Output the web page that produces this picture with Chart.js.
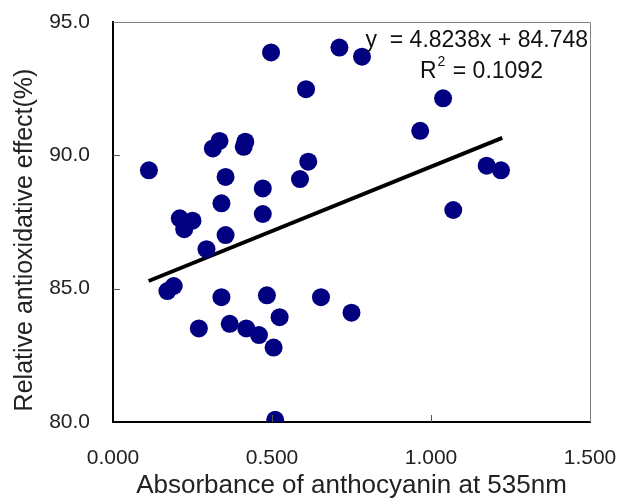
<!DOCTYPE html>
<html>
<head>
<meta charset="utf-8">
<script src="https://cdn.jsdelivr.net/npm/chart.js@4.4.1/dist/chart.umd.min.js"></script>
<style>
  body { margin: 0; background: #fff; }
  #grafico { display: block; }
</style>
</head>
<body>
<canvas id="grafico" width="617" height="499"></canvas>
<script>
// Datos
const absorbancia = [0.497, 0.712, 0.783, 0.607, 0.335, 0.314, 0.416, 0.411, 0.113, 0.614,
  0.588, 0.354, 0.471, 0.341, 0.471, 0.210, 0.250, 0.224, 0.354, 0.294,
  0.171, 0.191, 0.341, 0.484, 0.654, 0.750, 0.524, 0.270, 0.367, 0.419,
  0.459, 0.505, 0.510, 1.038, 0.966, 1.175, 1.220, 1.070];
const efecto = [93.86, 94.04, 93.70, 92.48, 90.54, 90.26, 90.51, 90.32, 89.44, 89.76,
  89.11, 89.19, 88.76, 88.20, 87.80, 87.64, 87.55, 87.23, 87.01, 86.48,
  84.91, 85.10, 84.68, 84.75, 84.68, 84.10, 83.93, 83.51, 83.68, 83.51,
  83.26, 82.79, 80.08, 92.14, 90.92, 89.61, 89.44, 87.95];

// Recta de regresion
const pendiente = 4.8238;
const ordenada = 84.748;
const r2 = "0.1092";
const tendenciaX = [0.112, 1.224];

const ticksX = [0, 0.5, 1.0, 1.5];
const ticksY = [80, 85, 90, 95];

const tituloX = "Absorbance of anthocyanin at 535nm";
const tituloY = "Relative antioxidative effect(%)";

const puntos = absorbancia.map((x, i) => ({ x: x, y: efecto[i] }));
const linea = tendenciaX.map(x => ({ x: x, y: pendiente * x + ordenada }));

// sin relleno extra por las etiquetas
function sinRelleno(s) {
  s.paddingLeft = 0; s.paddingRight = 0; s.paddingTop = 0; s.paddingBottom = 0;
}

// Marco, marcas hacia dentro, ecuacion y titulos
const extras = {
  id: "extras",
  afterDraw(chart) {
    const ctx = chart.ctx;
    const a = chart.chartArea;
    const sx = chart.scales.x, sy = chart.scales.y;
    ctx.save();
    // borde superior y derecho
    ctx.strokeStyle = "#808080";
    ctx.lineWidth = 1;
    ctx.beginPath();
    ctx.moveTo(a.left, a.top + 0.5);
    ctx.lineTo(a.right + 0.5, a.top + 0.5);
    ctx.lineTo(a.right + 0.5, a.bottom);
    ctx.stroke();
    // marcas
    ctx.strokeStyle = "#555";
    ctx.lineWidth = 1;
    ticksY.slice(1, -1).forEach(v => {
      const py = Math.round(sy.getPixelForValue(v)) + 0.5;
      ctx.beginPath(); ctx.moveTo(a.left, py); ctx.lineTo(a.left + 7, py); ctx.stroke();
    });
    ticksX.slice(1, -1).forEach(v => {
      const px = Math.round(sx.getPixelForValue(v)) + 0.5;
      ctx.beginPath(); ctx.moveTo(px, a.bottom); ctx.lineTo(px, a.bottom - 7); ctx.stroke();
    });
    // ecuacion
    ctx.fillStyle = "#111";
    ctx.font = "23px 'Liberation Sans'";
    ctx.textAlign = "right";
    ctx.textBaseline = "alphabetic";
    ctx.fillText("y  = " + pendiente + "x + " + ordenada, a.right - 2, 47);
    ctx.textAlign = "left";
    const x0 = 420;
    ctx.fillText("R", x0, 78);
    const wR = ctx.measureText("R").width;
    ctx.font = "14px 'Liberation Sans'";
    ctx.fillText("2", x0 + wR + 1, 66);
    const w2 = ctx.measureText("2").width;
    ctx.font = "23px 'Liberation Sans'";
    ctx.fillText(" = " + r2, x0 + wR + w2 + 2, 78);
    // titulos de ejes
    ctx.fillStyle = "#222";
    ctx.textAlign = "center";
    ctx.font = "26px 'Liberation Sans'";
    ctx.fillText(tituloX, (a.left + a.right) / 2, 493);
    ctx.translate(32, 240);
    ctx.rotate(-Math.PI / 2);
    ctx.font = "25px 'Liberation Sans'";
    ctx.fillText(tituloY, 0, 0);
    ctx.restore();
  }
};

new Chart(document.getElementById("grafico"), {
  type: "scatter",
  data: {
    datasets: [
      {
        label: "datos",
        data: puntos,
        backgroundColor: "#000080",
        borderWidth: 0,
        pointRadius: 9,
        pointHoverRadius: 9
      },
      {
        type: "line",
        label: "tendencia",
        data: linea,
        borderColor: "#000",
        borderWidth: 4,
        pointRadius: 0,
        fill: false
      }
    ]
  },
  plugins: [extras],
  options: {
    responsive: false,
    animation: false,
    layout: { padding: { top: 22, right: 27, left: 0, bottom: 0 } },
    plugins: {
      legend: { display: false },
      tooltip: { enabled: false }
    },
    scales: {
      x: {
        type: "linear",
        min: 0,
        max: 1.5,
        afterBuildTicks: s => { s.ticks = ticksX.map(v => ({ value: v })); },
        afterFit: s => { s.height = 77; sinRelleno(s); },
        grid: { display: false, drawTicks: false },
        border: { display: true, color: "#000", width: 2 },
        ticks: {
          padding: 24,
          color: "#222",
          font: { family: "'Liberation Sans'", size: 21 },
          callback: v => Number(v).toFixed(3),
          maxRotation: 0
        }
      },
      y: {
        type: "linear",
        min: 80,
        max: 95,
        afterBuildTicks: s => { s.ticks = ticksY.map(v => ({ value: v })); },
        afterFit: s => { s.width = 113; sinRelleno(s); },
        grid: { display: false, drawTicks: false },
        border: { display: true, color: "#000", width: 2 },
        ticks: {
          padding: 23,
          color: "#222",
          font: { family: "'Liberation Sans'", size: 21 },
          callback: v => Number(v).toFixed(1)
        }
      }
    }
  }
});
</script>
</body>
</html>
